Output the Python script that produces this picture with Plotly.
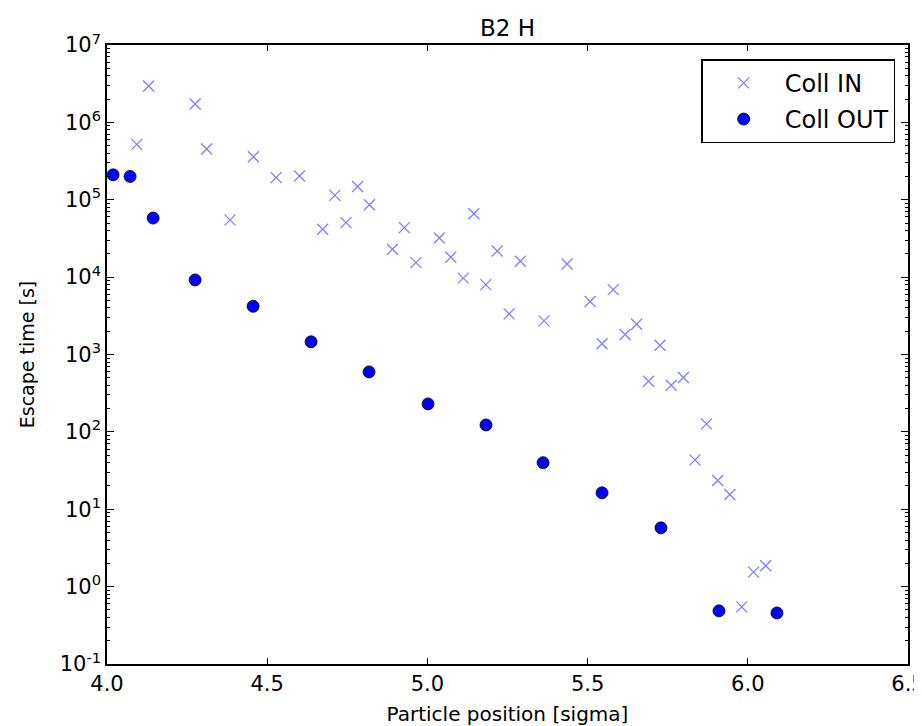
import plotly.graph_objects as go

# Coll IN (crosses)
in_pos = [4.093, 4.130, 4.275, 4.311, 4.384, 4.457, 4.528, 4.601, 4.673, 4.711,
          4.746, 4.782, 4.819, 4.891, 4.928, 4.964, 5.037, 5.073, 5.112, 5.145,
          5.182, 5.218, 5.255, 5.290, 5.364, 5.436, 5.508, 5.545, 5.580, 5.617,
          5.653, 5.690, 5.726, 5.761, 5.799, 5.835, 5.871, 5.906, 5.944, 5.981,
          6.018, 6.056]
in_time = [5.2e5, 2.95e6, 1.73e6, 4.53e5, 5.5e4, 3.6e5, 1.93e5, 2.03e5, 4.16e4, 1.14e5,
           5.06e4, 1.48e5, 8.6e4, 2.29e4, 4.36e4, 1.54e4, 3.2e4, 1.81e4, 9.7e3, 6.6e4,
           8.0e3, 2.18e4, 3.35e3, 1.6e4, 2.72e3, 1.48e4, 4.83e3, 1.38e3, 6.9e3, 1.81e3,
           2.46e3, 452, 1.32e3, 401, 504, 43.5, 127, 23.5, 15.5, 0.548,
           1.54, 1.86]

# Coll OUT (dots)
out_pos = [4.019, 4.072, 4.144, 4.275, 4.456, 4.637, 4.818, 5.002, 5.183, 5.361,
           5.545, 5.729, 5.910, 6.091]
out_time = [2.1e5, 2.0e5, 5.8e4, 9.2e3, 4.2e3, 1.46e3, 596, 230, 123, 40,
            16.3, 5.75, 0.486, 0.457]

x_ticks = [4.0, 4.5, 5.0, 5.5, 6.0, 6.5]
y_exps = [-1, 0, 1, 2, 3, 4, 5, 6, 7]

FONT = "DejaVu Sans"

fig = go.Figure()
fig.add_trace(go.Scatter(
    x=in_pos, y=in_time, mode="markers", name="Coll IN",
    legendgroup="a",
    marker=dict(symbol="x-thin", size=11, color="rgba(0,0,255,0.5)",
                line=dict(width=1.3, color="rgba(0,0,255,0.5)")),
))
fig.add_trace(go.Scatter(
    x=out_pos, y=out_time, mode="markers", name="Coll OUT",
    legendgroup="b",
    marker=dict(symbol="circle", size=12, color="#0000ff",
                line=dict(width=0.8, color="black")),
))

yvals = [10.0 ** e for e in y_exps]
ytext = ["10<sup>%s</sup>" % (str(e) if e >= 0 else "-" + str(-e)) for e in y_exps]
minor_vals = [k * 10.0 ** e for e in y_exps[:-1] for k in range(2, 10)]

# page body has an 8px margin, so the figure is sized 8px smaller
fig.update_layout(
    width=914, height=718,
    margin=dict(l=99, r=14, t=37, b=62),
    paper_bgcolor="white", plot_bgcolor="white",
    font=dict(family=FONT, size=20, color="black"),
    title=dict(text="B2 H", x=0.5, xref="paper", xanchor="center",
               y=1 - 20 / 718, yref="container", yanchor="middle",
               font=dict(size=23, family=FONT, color="black")),
    showlegend=True,
    legend=dict(x=0.984, y=0.977, xanchor="right", yanchor="top",
                bgcolor="white", bordercolor="black", borderwidth=1.5,
                font=dict(size=24, family=FONT, color="black"),
                tracegroupgap=2, itemwidth=72),
    xaxis=dict(range=[4.0, 6.5], tickmode="array", tickvals=x_ticks,
               ticktext=["%.1f" % v for v in x_ticks],
               showgrid=False, zeroline=False, showline=True, linecolor="black",
               linewidth=1.5, mirror="ticks", ticks="inside", ticklen=6,
               tickcolor="black", tickfont=dict(size=21, family=FONT),
               ticklabeloverflow="allow",
               automargin=False,
               title=dict(text="Particle position [sigma]", standoff=12,
                          font=dict(size=20, family=FONT))),
    yaxis=dict(type="log", range=[-1, 7], tickmode="array", tickvals=yvals,
               ticktext=ytext,
               showgrid=False, zeroline=False, showline=True, linecolor="black",
               linewidth=1.5, mirror="ticks", ticks="inside", ticklen=7,
               tickcolor="black", tickfont=dict(size=21, family=FONT),
               minor=dict(tickmode="array", tickvals=minor_vals, ticks="inside",
                          ticklen=3, tickcolor="black", showgrid=False),
               automargin=False,
               title=dict(text="Escape time [s]", standoff=20,
                          font=dict(size=19, family=FONT))),
)

fig.write_html("out.html")
